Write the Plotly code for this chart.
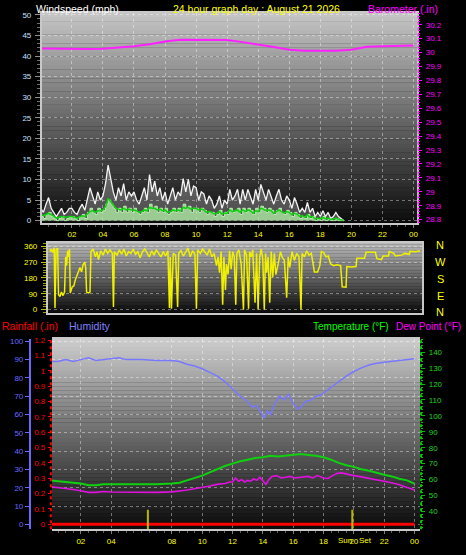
import numpy as np
import plotly.graph_objects as go

W, H = 466, 555

# ---------------- DATA ----------------
wind_step_h = 1 / 6.0
gust_mph = [3,2,4,5.6,3,2, 1,2,3,1.5,2,3, 3,2,1.5,3,4,2.5, 5,8,6,4,7,5,
            6,9,13.5,10,7,5, 8,6,9,5,7,6, 7,5,4,6,8,5, 11.2,7,9.6,6,8,5,
            7,4,6,8,5,7, 6,10.2,7,10,6,8.4, 8,5,7,6.5,4,6, 5,3,4,6,3,5,
            4,7.6,5,6,7.6,4, 7.6,5,7.6,6,4,7.6, 5,8.8,7,5,7.6,6, 4,6,7.6,5,4,6,
            5,3,5.6,4,2,3, 2,4.4,2,3,1,2, 1,2.4,1,2,0.5,1, 2,1,0.5,0]
speed_mph = [1,0.5,1.5,2,1,0.5, 0,0.5,1,0,0.5,1, 1,0.5,0,1,1.5,0.5, 2,3,2,1.5,3,2,
             2.5,4,5,4,3,2, 3,2,3.5,2,3,2, 3,2,1.5,2,3,2, 4,3,3.5,2,3,2,
             3,1.5,2,3,2,3, 2,4,3,3.5,2,3, 3,2,3,2.5,1.5,2, 2,1,1.5,2.5,1,2,
             1.5,3,2,2.5,3,1.5, 3,2,3,2.5,1.5,3, 2,3.5,3,2,3,2.5, 1.5,2.5,3,2,1.5,2.5,
             2,1,2,1.5,0.5,1, 0.5,1.5,0.5,1,0,0.5, 0,1,0,0.5,0,0, 0.5,0,0,0]
avg_mph = [1.5,1.2,1.5,1.8,1.5,1.0, 0.6,0.8,1.0,0.8,0.8,1.0, 1.0,0.8,0.6,0.9,1.2,1.0,
           1.6,2.2,2.4,2.0,2.4,2.4, 2.6,3.4,5.4,4.6,3.6,3.0, 2.8,2.6,3.0,2.6,2.8,2.6,
           2.6,2.4,2.0,2.2,2.6,2.4, 3.2,3.0,3.0,2.6,2.8,2.4, 2.6,2.0,2.2,2.6,2.4,2.6,
           2.4,3.2,3.0,3.2,2.8,3.0, 3.0,2.6,2.8,2.6,2.0,2.2, 2.0,1.6,1.8,2.2,1.6,1.8,
           1.8,2.6,2.2,2.4,2.6,2.0, 2.6,2.2,2.6,2.4,1.8,2.4, 2.2,3.0,2.8,2.4,2.6,2.4,
           1.8,2.2,2.6,2.2,1.8,2.2, 2.0,1.4,1.8,1.6,1.0,1.2, 0.8,1.4,0.8,1.0,0.4,0.6,
           0.4,0.8,0.4,0.6,0.3,0.4, 0.6,0.3,0.2,0.1]
wind_hours = np.arange(len(gust_mph)) * wind_step_h

baro_hours = list(range(25))
baro_in = [30.03, 30.028, 30.025, 30.025, 30.028, 30.035, 30.045, 30.06, 30.08, 30.093,
           30.092, 30.093, 30.09, 30.075, 30.06, 30.04, 30.02, 30.013, 30.013, 30.013,
           30.02, 30.042, 30.045, 30.046, 30.05]

dir_hours = [0.00,0.08,0.18,0.28,0.33,0.40,0.50,0.56,0.65,0.75,0.85,0.95,1.02,1.08,1.15,1.22,1.27,
             1.32,1.45,1.55,1.65,1.75,1.85,1.95,2.05,2.15,2.25,2.32,2.38,2.50,2.60,2.66,2.80,2.95,
             3.05,3.15,3.30,3.45,3.60,3.75,3.90,4.05,4.12,4.18,4.35,4.50,4.65,4.80,4.95,5.10,5.25,
             5.40,5.55,5.70,5.85,6.00,6.15,6.30,6.45,6.60,6.75,6.90,7.05,7.20,7.35,7.50,7.65,7.75,
             7.80,7.88,7.95,8.00,8.15,8.28,8.35,8.50,8.65,8.80,8.95,9.10,9.25,9.40,9.50,9.58,9.75,
             9.90,10.05,10.20,10.35,10.50,10.65,10.80,10.90,11.00,11.10,11.20,11.28,11.38,11.45,
             11.55,11.65,11.75,11.85,11.95,12.05,12.12,12.25,12.40,12.55,12.62,12.75,12.88,12.95,
             13.05,13.15,13.30,13.40,13.50,13.60,13.70,13.80,13.90,13.98,14.05,14.15,14.25,14.35,
             14.45,14.55,14.65,14.80,14.95,15.05,15.20,15.35,15.45,15.55,15.70,15.85,16.00,16.15,
             16.28,16.35,16.50,16.65,16.80,16.95,17.05,17.15,17.35,17.50,17.60,17.75,17.90,18.05,
             18.20,18.40,18.60,18.85,18.95,19.20,19.25,19.50,19.85,19.90,20.40,20.50,21.10,21.20,
             21.50,21.60,21.95,22.00,22.30,22.40,22.80,23.00,23.30,23.35,23.70,24.00]
dir_deg = [330,345,325,352,10,340,350,85,75,100,80,100,300,250,335,300,345,
           95,130,135,170,195,215,240,215,255,270,240,100,95,100,330,345,300,
           330,285,335,310,345,320,340,320,15,330,310,340,315,345,305,330,320,
           345,315,330,295,330,345,320,300,335,310,340,320,300,330,305,335,10,
           300,5,200,320,310,15,320,335,305,330,350,300,335,315,5,340,320,
           345,330,310,345,300,320,250,300,210,330,28,300,112,260,
           200,335,230,330,300,28,320,340,260,0,340,310,5,330,
           300,340,40,320,0,300,345,290,0,320,210,300,40,330,
           185,320,200,260,330,300,280,68,300,240,330,280,320,300,
           0,320,300,335,310,320,260,214,214,250,330,325,300,305,
           260,250,255,250,130,128,245,243,245,292,292,326,326,290,
           285,305,305,330,320,305,310,320,315,332,330,335]

hum_hours = [0,0.5,1,1.5,2,2.5,3,3.5,4,4.5,5,6,7,8,8.5,9,9.5,10,10.5,11,11.5,12,12.5,13,13.3,
             13.6,13.9,14.1,14.3,14.5,14.8,15.1,15.4,15.7,16.0,16.3,16.5,16.8,17.2,17.5,17.8,
             18.2,18.6,19,19.5,20,20.5,21,21.5,22,22.5,23,23.5,24]
hum_pct = [89,89,90,89,90,91,89.5,90,90.5,91,90,90,89.5,89.5,89,87.5,86.5,85,83,81,78,74,70,67,64,
           65,61,58,62,60,66,70,68,71,66,63,64,67,68,70,70.5,
           73,75,78,81,83.5,85.5,87,88,88.5,89,89.5,90,90.5]

temp_hours = [0,0.5,1,1.5,2,2.5,3,3.5,4,5,6,7,8,8.5,9,9.5,10,10.5,11,11.5,12,12.5,13,13.5,14,14.5,
              15,15.5,16,16.5,17,17.5,18,18.5,19,19.5,20,20.5,21,21.5,22,22.5,23,23.5,24]
temp_f = [59.5,59,58.5,58,57.5,56.5,56.5,57,57,57,57,57,57.5,58,59.5,61,62.5,64.5,66.5,68.5,70,71.5,
          72.5,73.5,74,75,74.5,75,75.5,76,75.5,75,74,72.5,70.5,69,68,66.5,65.5,64,63,62,60.5,59.5,57.5]

dew_hours = [0,0.5,1,1.5,2,2.5,3,3.5,4,5,6,7,8,8.5,9,9.5,10,10.5,11,11.5,11.8,12,12.2,12.4,12.6,12.8,
             13,13.2,13.4,13.6,13.8,14.0,14.2,14.4,14.6,14.9,15.2,15.5,15.8,16.1,16.5,17,17.3,17.6,
             18,18.3,18.6,18.9,19.2,19.5,20,20.5,21,21.5,22,22.5,23,23.5,24]
dew_f = [55.5,55,54.5,53.8,53,52,52,52.5,52.2,52,52,52,52.3,52.8,53.5,54.3,55,56,57,57.5,58.5,58.5,
         61,59,60,58.5,59.5,59,60.5,59.5,61.5,59,57,60,62,62.5,61,61.5,62,61,61.5,62,61,62.5,
         61,60.7,62.5,64,64.2,63.5,62.5,61.7,60.8,60,59,58,56.8,55.3,53.5]

rain_hours = [0, 24]
rain_in = [0, 0]

sun_events_h = [6.42, 19.9]

x_tick_vals = [2,4,6,8,10,12,14,16,18,20,22,24]
x_tick_text = ["02","04","06","08","10","12","14","16","18","20","22","00"]
x3_tick_vals = [2,4,8,10,12,14,16,18,20,22,24]
x3_tick_text = ["02","04","08","10","12","14","16","18","20","22","00"]

# ---------------- LAYOUT HELPERS ----------------
def px_x(px):
    return px / W

def px_y(py):
    return 1 - py / H

P1 = dict(l=42, r=418, t=10, b=222)
P2 = dict(l=48, r=423, t=243, b=313)
P3 = dict(l=52, r=421, t=340, b=532)

FONT = "Liberation Sans, Arial, sans-serif"
TICKF = dict(family=FONT, size=8)
GRID = 'rgba(255,255,255,0.40)'

fig = go.Figure()

# wind
fig.add_trace(go.Scatter(x=wind_hours, y=gust_mph, mode='lines', line=dict(color='#f4f4f4', width=1.3),
                         fill='tozeroy', fillcolor='rgba(235,235,235,0.28)', xaxis='x', yaxis='y'))
fig.add_trace(go.Scatter(x=wind_hours, y=speed_mph, mode='lines', line=dict(color='#b8f0b0', width=1, shape='hv'),
                         fill='tozeroy', fillcolor='rgba(175,235,165,0.8)', xaxis='x', yaxis='y'))
fig.add_trace(go.Scatter(x=wind_hours, y=avg_mph, mode='lines', line=dict(color='#10d010', width=1.5),
                         xaxis='x', yaxis='y'))
fig.add_trace(go.Scatter(x=baro_hours, y=baro_in, mode='lines', line=dict(color='#ff20ff', width=2),
                         xaxis='x', yaxis='y2'))
# direction
fig.add_trace(go.Scatter(x=dir_hours, y=dir_deg, mode='lines', line=dict(color='#f0f000', width=1.5),
                         xaxis='x2', yaxis='y3'))
# bottom panel
fig.add_trace(go.Scatter(x=hum_hours, y=hum_pct, mode='lines', line=dict(color='#7878ff', width=1.5),
                         xaxis='x3', yaxis='y4'))
fig.add_trace(go.Scatter(x=rain_hours, y=rain_in, mode='lines', line=dict(color='#ff0000', width=3),
                         xaxis='x3', yaxis='y5'))
fig.add_trace(go.Scatter(x=temp_hours, y=temp_f, mode='lines', line=dict(color='#10d010', width=2),
                         xaxis='x3', yaxis='y6'))
fig.add_trace(go.Scatter(x=dew_hours, y=dew_f, mode='lines', line=dict(color='#e010e0', width=1.6),
                         xaxis='x3', yaxis='y6'))

shapes = []
def gradient(p, top, bottom, n=48):
    for i in range(n):
        f = (i + 0.5) / n
        c = int(round(top + (bottom - top) * f))
        y0 = p['t'] + (p['b'] - p['t']) * i / n
        y1 = p['t'] + (p['b'] - p['t']) * (i + 1) / n
        shapes.append(dict(type='rect', xref='paper', yref='paper', layer='below',
                           x0=px_x(p['l']), x1=px_x(p['r']), y0=px_y(y1), y1=px_y(y0) + 0.0005,
                           line=dict(width=0), fillcolor=f'rgb({c},{c},{c})'))
gradient(P1, 198, 12)
gradient(P2, 185, 12)
gradient(P3, 205, 10)

# coloured dotted axis lines
shapes.append(dict(type='line', xref='paper', yref='paper', x0=px_x(51), x1=px_x(51), y0=px_y(P3['b']), y1=px_y(P3['t']),
                   line=dict(color='#ff0000', width=2, dash='dot')))
shapes.append(dict(type='line', xref='paper', yref='paper', x0=px_x(422), x1=px_x(422), y0=px_y(P3['b']), y1=px_y(P3['t']),
                   line=dict(color='#00d000', width=2, dash='dot')))
shapes.append(dict(type='line', xref='paper', yref='paper', x0=px_x(419), x1=px_x(419), y0=px_y(P1['b']), y1=px_y(P1['t']),
                   line=dict(color='#ff00ff', width=1, dash='dot')))
# sunrise / sunset markers
for h in sun_events_h:
    shapes.append(dict(type='line', xref='x3', yref='y4', x0=h, x1=h, y0=-2.7, y1=8,
                       line=dict(color='#b8b800', width=2)))

def ax_common(**kw):
    d = dict(showline=True, linecolor='#c8c8c8', linewidth=2, mirror=True, zeroline=False,
             tickfont=TICKF, fixedrange=True)
    d.update(kw)
    return d

layout = dict(
    width=W, height=H, margin=dict(l=0, r=0, t=0, b=0),
    paper_bgcolor='black', plot_bgcolor='rgba(0,0,0,0)', showlegend=False,
    font=dict(family=FONT), hovermode=False,
    xaxis=ax_common(domain=[px_x(P1['l']), px_x(P1['r'])], range=[0.07, 24.23], anchor='y',
                    tickvals=x_tick_vals, ticktext=x_tick_text, tickfont=dict(family=FONT, size=8, color='#ffff00'),
                    ticks='outside', ticklen=3, tickcolor='#808080', showgrid=True, gridcolor=GRID, griddash='dot',
                    minor=dict(ticks='outside', dtick=0.5, ticklen=2, tickcolor='#606060', showgrid=False)),
    yaxis=ax_common(domain=[px_y(P1['b']), px_y(P1['t'])], range=[-0.48, 50.48], anchor='x',
                    tickvals=list(range(0, 55, 5)), tickfont=dict(family=FONT, size=8, color='#c8e0ff'),
                    ticks='outside', ticklen=5, tickcolor='#909090', ticklabelstandoff=2,
                    showgrid=True, gridcolor=GRID, griddash='dot',
                    minor=dict(ticks='outside', dtick=1, ticklen=3, tickcolor='#707070', showgrid=False)),
    yaxis2=dict(overlaying='y', side='right', anchor='x', range=[28.779, 30.285], fixedrange=True,
                tickvals=[round(28.8 + 0.1 * i, 1) for i in range(15)],
                ticktext=[('%g' % round(28.8 + 0.1 * i, 1)) for i in range(15)],
                tickfont=dict(family=FONT, size=8, color='#ff00ff'), ticks='outside', ticklen=4,
                tickcolor='#ff00ff', showgrid=False, zeroline=False, showline=False, ticklabelstandoff=2,
                minor=dict(ticks='outside', dtick=0.02, ticklen=2, tickcolor='#ff00ff')),
    xaxis2=ax_common(domain=[px_x(P2['l']), px_x(P2['r'])], range=[-0.13, 24.13], anchor='y3',
                     showticklabels=False, ticks='', showgrid=False),
    yaxis3=ax_common(domain=[px_y(P2['b']), px_y(P2['t'])], range=[-17, 377], anchor='x2',
                     tickvals=[0, 90, 180, 270, 360], tickfont=dict(family=FONT, size=8, color='#ffff00'),
                     ticks='outside', ticklen=5, tickcolor='#c0c000', ticklabelstandoff=2,
                     showgrid=True, gridcolor=GRID, griddash='dot',
                     minor=dict(ticks='outside', dtick=15, ticklen=3, tickcolor='#a0a000', showgrid=False)),
    xaxis3=ax_common(domain=[px_x(P3['l']), px_x(P3['r'])], range=[0.09, 24.37], anchor='y4',
                     tickvals=x3_tick_vals, ticktext=x3_tick_text, tickfont=dict(family=FONT, size=8, color='#ffff00'),
                     ticks='outside', ticklen=3, tickcolor='#808080', showgrid=True, gridcolor=GRID, griddash='dot',
                     minor=dict(ticks='outside', dtick=0.5, ticklen=2, tickcolor='#606060', showgrid=False)),
    yaxis4=dict(domain=[px_y(P3['b']), px_y(P3['t'])], range=[-2.7, 101.08], anchor='free', position=px_x(30),
                side='left', fixedrange=True, tickvals=list(range(0, 110, 10)),
                tickfont=dict(family=FONT, size=8, color='#6a6aff'), ticks='outside', ticklen=4, tickcolor='#6a6aff',
                showline=True, linecolor='#6a6aff', linewidth=2, zeroline=False,
                showgrid=True, gridcolor=GRID, griddash='dot'),
    yaxis5=dict(overlaying='y4', anchor='x3', side='left', range=[-0.0323, 1.2065], fixedrange=True,
                tickvals=[round(0.1 * i, 1) for i in range(13)],
                ticktext=[('%g' % round(0.1 * i, 1)) for i in range(13)],
                tickfont=dict(family=FONT, size=8, color='#ff0000'), ticks='outside', ticklen=3, tickcolor='#ff0000',
                showgrid=False, zeroline=False, showline=False, ticklabelstandoff=1),
    yaxis6=dict(overlaying='y4', anchor='x3', side='right', range=[28.82, 148.07], fixedrange=True,
                tickvals=list(range(40, 150, 10)), tickfont=dict(family=FONT, size=8, color='#20d020'),
                ticks='outside', ticklen=4, tickcolor='#00c000', showgrid=False, zeroline=False, showline=False,
                ticklabelstandoff=2,
                minor=dict(ticks='outside', dtick=2, ticklen=2, tickcolor='#00c000')),
    shapes=shapes,
)
fig.update_layout(**layout)

def label(text, x, y, color, size=10.5, xanchor='left', xref='paper'):
    fig.add_annotation(text=text, x=x if xref != 'paper' else px_x(x), y=px_y(y), xref=xref, yref='paper',
                       showarrow=False, xanchor=xanchor, yanchor='middle',
                       font=dict(family=FONT, size=size, color=color))

label("Windspeed (mph)", 34, 6, 'white')
label("24 hour graph day : August 21 2026", 257, 6, '#ffff00', xanchor='center')
label("Barometer (.in)", 441, 6, '#ff00ff', xanchor='right')
label("Rainfall (.in)", 0, 327, '#ff0000')
label("Humidity", 67, 327, '#8080ff')
label("Temperature (°F)", 312, 327, '#00ff00', size=10)
label("Dew Point (°F)", 464, 327, '#ff00ff', size=10, xanchor='right')
for t, yy in zip(["N", "W", "S", "E", "N"], [245, 262, 279, 296, 312]):
    label(t, 441, yy, '#ffff00', size=11, xanchor='center')
label("Sun", 20, 543, '#ffff00', size=8, xanchor='right', xref='x3')
fig.add_annotation(text="Set", x=20, y=px_y(543), xref='x3', yref='paper', showarrow=False,
                   xanchor='left', xshift=3, yanchor='middle', font=dict(family=FONT, size=8, color='#ffff00'))

fig.write_html("out.html", config={'displayModeBar': False, 'staticPlot': True},
               post_script="document.body.style.margin='0';document.body.style.overflow='hidden';")
